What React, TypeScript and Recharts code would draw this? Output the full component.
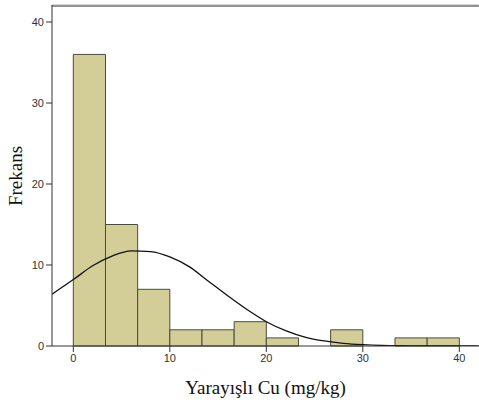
import React from "react";
import { ComposedChart, XAxis, YAxis, Line, ReferenceArea } from "recharts";

// Histogram bins (Yarayışlı Cu, mg/kg)
const binStarts = [0, 3.333, 6.667, 10, 13.333, 16.667, 20, 23.333, 26.667, 30, 33.333, 36.667];
const binEnds = [3.333, 6.667, 10, 13.333, 16.667, 20, 23.333, 26.667, 30, 33.333, 36.667, 40];
const counts = [36, 15, 7, 2, 2, 3, 1, 0, 2, 0, 1, 1];

// Normal curve
const curveX = [-2.2, 0, 2, 4, 6, 8, 10, 12, 14, 16, 18, 20, 22, 24, 26, 28, 30, 32, 34, 36, 38, 40, 42];
const curveY = [6.4, 8.2, 9.9, 11.1, 11.75, 11.65, 11.0, 9.8, 8.0, 6.2, 4.5, 3.0, 1.9, 1.1, 0.62, 0.32, 0.16, 0.07, 0.03, 0.015, 0.006, 0.002, 0.001];

const xTicks = [0, 10, 20, 30, 40];
const yTicks = [0, 10, 20, 30, 40];
const xDomain: [number, number] = [-2.21, 42.04];
const yDomain: [number, number] = [0, 42.1];
const frameBand: [number, number] = [41.93, 42.08];

const curveData = curveX.map((x, i) => ({ x, y: curveY[i] }));

const tickStyle = { fontFamily: "'Liberation Sans', Arial, sans-serif", fontSize: 11, fill: "#333" };
const titleStyle = { fontFamily: "'Liberation Serif', 'Times New Roman', serif", fontSize: 19, fill: "#111" };

export default function App() {
  return (
    <div style={{ position: "absolute", left: 0, top: 0, background: "#fff" }}>
      <ComposedChart width={479} height={403} margin={{ top: 5, right: 0, bottom: 0, left: 0 }}>
        <XAxis
          type="number"
          dataKey="x"
          domain={xDomain}
          ticks={xTicks}
          allowDataOverflow
          height={57}
          tickSize={6}
          tickMargin={2}
          tick={tickStyle}
          axisLine={{ stroke: "#333", strokeWidth: 1 }}
          tickLine={{ stroke: "#333" }}
          label={{
            value: "Yarayışlı Cu (mg/kg)",
            position: "insideBottom",
            offset: 9,
            style: titleStyle,
          }}
        />
        <YAxis
          type="number"
          domain={yDomain}
          ticks={yTicks}
          allowDataOverflow
          width={52}
          tickSize={6}
          tickMargin={2}
          tick={tickStyle}
          axisLine={{ stroke: "#333", strokeWidth: 1 }}
          tickLine={{ stroke: "#333" }}
          label={{
            content: () => (
              <text
                x={22}
                y={176}
                transform="rotate(-90 22 176)"
                textAnchor="middle"
                style={titleStyle}
              >
                Frekans
              </text>
            ),
          }}
        />
        <ReferenceArea
          x1={-2.2}
          x2={42}
          y1={frameBand[0]}
          y2={frameBand[1]}
          fill="#8a8a8a"
          fillOpacity={1}
          stroke="#8a8a8a"
          strokeWidth={1}
          ifOverflow="visible"
        />
        {counts.map((c, i) =>
          c > 0 ? (
            <ReferenceArea
              key={i}
              x1={binStarts[i]}
              x2={binEnds[i]}
              y1={0}
              y2={c}
              fill="#d3ce98"
              fillOpacity={1}
              stroke="#4a4a3e"
              strokeWidth={1}
            />
          ) : null
        )}
        <Line
          data={curveData}
          dataKey="y"
          type="monotone"
          stroke="#111"
          strokeWidth={1.3}
          dot={false}
          isAnimationActive={false}
        />
      </ComposedChart>
    </div>
  );
}
